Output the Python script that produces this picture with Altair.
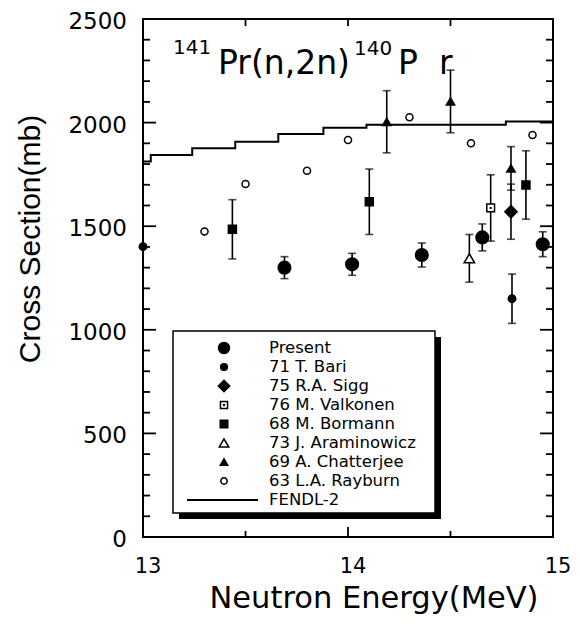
import altair as alt
import pandas as pd

# ---------------- data ----------------
series_names = ["Present", "71 T. Bari", "75 R.A. Sigg", "76 M. Valkonen",
                "68 M. Bormann", "73 J. Araminowicz", "69 A. Chatterjee",
                "63 L.A. Rayburn"]

present_e = [13.69, 14.02, 14.36, 14.655, 14.95]
present_cs = [1300, 1316, 1361, 1446, 1413]
present_err = [53, 53, 58, 65, 60]

bari_e = [13.0, 14.80]
bari_cs = [1401, 1150]
bari_err = [0, 119]

sigg_e = [14.795]
sigg_cs = [1570]
sigg_err = [133]

valkonen_e = [14.696]
valkonen_cs = [1588]
valkonen_err = [160]

bormann_e = [13.436, 14.104, 14.868]
bormann_cs = [1485, 1618, 1699]
bormann_err = [143, 158, 165]

aram_e = [14.592]
aram_cs = [1345]
aram_err = [115]

chatt_e = [14.189, 14.50, 14.795]
chatt_cs = [2004, 2102, 1779]
chatt_err = [150, 151, 105]

rayburn_e = [13.3, 13.5, 13.8, 14.0, 14.3, 14.6, 14.9]
rayburn_cs = [1474, 1704, 1768, 1916, 2026, 1900, 1940]
rayburn_err = [0, 0, 0, 0, 0, 0, 0]

fendl_e = [13.0, 13.038, 13.24, 13.45, 13.66, 13.88, 14.09, 14.77, 15.0]
fendl_cs = [1812, 1844, 1876, 1908, 1945, 1975, 1990, 2005, 2005]

y_major = [0, 500, 1000, 1500, 2000, 2500]
y_labels = ["0", "500", "1000", "1500", "2000", "2500"]
y_minor = [v for v in range(0, 2501, 100) if v % 500 != 0]
x_major = [13, 14, 15]
x_labels = ["13", "14", "15"]
x_minor = [13.5, 14.5]
x_title = "Neutron Energy(MeV)"
y_title = "Cross Section(mb)"

# ---------------- styling ----------------
shape_range = ["circle", "circle", "diamond", "square", "square",
               "triangle-up", "triangle-up", "circle"]
size_range = [160, 55, 150, 60, 64, 110, 70, 50]
fill_range = ["black", "black", "black", "white", "black", "white", "black", "white"]
style = {n: (s, z, f) for n, s, z, f in zip(series_names, shape_range, size_range, fill_range)}

W, H = 410, 518
XMIN, XMAX, YMIN, YMAX = 13.0, 15.0, 0, 2500
PX0, PY0 = 143, 19  # plot origin on the page


def dx(px):
    return XMIN + (px - PX0) * (XMAX - XMIN) / W


def dy(py):
    return YMAX - (py - PY0) * (YMAX - YMIN) / H


groups = [
    (series_names[0], present_e, present_cs, present_err),
    (series_names[1], bari_e, bari_cs, bari_err),
    (series_names[2], sigg_e, sigg_cs, sigg_err),
    (series_names[3], valkonen_e, valkonen_cs, valkonen_err),
    (series_names[4], bormann_e, bormann_cs, bormann_err),
    (series_names[5], aram_e, aram_cs, aram_err),
    (series_names[6], chatt_e, chatt_cs, chatt_err),
    (series_names[7], rayburn_e, rayburn_cs, rayburn_err),
]
rows = []
for name, es, cs, errs in groups:
    for e, c, er in zip(es, cs, errs):
        sh, sz, fl = style[name]
        rows.append({"series": name, "e": e, "cs": c, "lo": c - er, "hi": c + er, "err": er,
                     "shape": sh, "size": sz, "fill": fl})
pts = pd.DataFrame(rows)
errs_df = pts[pts["err"] > 0]
caps = pd.concat([
    errs_df[["e", "lo"]].rename(columns={"lo": "v"}),
    errs_df[["e", "hi"]].rename(columns={"hi": "v"}),
])

xs = alt.Scale(domain=[XMIN, XMAX], nice=False, zero=False)
ys = alt.Scale(domain=[YMIN, YMAX], nice=False, zero=False)


def X(field):
    return alt.X(field, scale=xs, axis=None)


def Y(field):
    return alt.Y(field, scale=ys, axis=None)


shape_enc = alt.Shape("shape:N", scale=None)
size_enc = alt.Size("size:Q", scale=None)
fill_enc = alt.Fill("fill:N", scale=None)

# FENDL-2 histogram
fendl = alt.Chart(pd.DataFrame({"e": fendl_e, "cs": fendl_cs})).mark_line(
    interpolate="step-after", color="black", strokeWidth=2
).encode(x=X("e:Q"), y=Y("cs:Q"))

# tick labels and axis titles
xlab = alt.Chart(pd.DataFrame({"v": x_major, "t": x_labels})).mark_text(
    font="DejaVu Sans", fontSize=21, color="black", baseline="middle", align="center", dx=5
).encode(x=X("v:Q"), y=alt.value(H + 30), text="t:N")
ylab = alt.Chart(pd.DataFrame({"v": y_major, "t": y_labels})).mark_text(
    font="DejaVu Sans", fontSize=23, color="black", baseline="middle", align="right", dy=3
).encode(y=Y("v:Q"), x=alt.value(-16), text="t:N")
xtitle = alt.Chart(pd.DataFrame({"t": [x_title]})).mark_text(
    font="DejaVu Sans", fontSize=30.5, color="black", baseline="alphabetic", align="center"
).encode(x=alt.value(231), y=alt.value(H + 71), text="t:N")
ytitle = alt.Chart(pd.DataFrame({"t": [y_title]})).mark_text(
    font="Liberation Sans", fontSize=30, color="black", baseline="alphabetic", align="center",
    angle=270
).encode(x=alt.value(-103), y=alt.value(220), text="t:N")

bars = alt.Chart(errs_df).mark_rule(color="black", strokeWidth=1.6).encode(
    x=X("e:Q"), y=Y("lo:Q"), y2="hi:Q"
)
cap_marks = alt.Chart(caps).mark_tick(color="black", orient="horizontal", size=8, thickness=1.6).encode(
    x=X("e:Q"), y=Y("v:Q")
)
points = alt.Chart(pts).mark_point(filled=True, stroke="black", strokeWidth=1.5, opacity=1).encode(
    x=X("e:Q"), y=Y("cs:Q"),
    shape=shape_enc, size=size_enc, fill=fill_enc,
)
valk_dot = alt.Chart(pts[pts["series"] == series_names[3]]).mark_point(
    filled=True, color="black", shape="square", size=4, opacity=1
).encode(x=X("e:Q"), y=Y("cs:Q"))


# inward ticks on all four sides
def yticks(vals, x1, x2):
    return alt.Chart(pd.DataFrame({"v": vals})).mark_rule(color="black", strokeWidth=1.8).encode(
        y=Y("v:Q"), x=alt.value(x1), x2=alt.value(x2))


def xticks(vals, y1, y2):
    return alt.Chart(pd.DataFrame({"v": vals})).mark_rule(color="black", strokeWidth=1.8).encode(
        x=X("v:Q"), y=alt.value(y1), y2=alt.value(y2))


tick_layers = [
    yticks(y_major, 0, 13), yticks(y_minor, 0, 7),
    yticks(y_major, W, W - 13), yticks(y_minor, W, W - 7),
    xticks(x_major, H, H - 10), xticks(x_minor, H, H - 6),
    xticks(x_major, 0, 7), xticks(x_minor, 0, 7),
]

# reaction label
title_parts = pd.DataFrame([
    {"t": "141", "x": dx(173), "y": dy(54), "s": 20},
    {"t": "Pr(n,2n)", "x": dx(218), "y": dy(74), "s": 33},
    {"t": "140", "x": dx(354), "y": dy(55), "s": 20},
    {"t": "P", "x": dx(398), "y": dy(74), "s": 33},
    {"t": "r", "x": dx(439), "y": dy(74), "s": 33},
])
title_small = alt.Chart(title_parts[title_parts["s"] == 20]).mark_text(
    align="left", baseline="alphabetic", font="DejaVu Sans", fontSize=20, color="black"
).encode(x=X("x:Q"), y=Y("y:Q"), text="t:N")
title_big = alt.Chart(title_parts[title_parts["s"] == 33]).mark_text(
    align="left", baseline="alphabetic", font="DejaVu Sans", fontSize=33, color="black"
).encode(x=X("x:Q"), y=Y("y:Q"), text="t:N")

# legend box (drawn in data space)
box = pd.DataFrame([{"x1": dx(173), "x2": dx(435), "y1": dy(331), "y2": dy(513)}])
shadow = pd.DataFrame([{"x1": dx(179), "x2": dx(441), "y1": dy(337), "y2": dy(519)}])
shadow_rect = alt.Chart(shadow).mark_rect(color="black").encode(
    x=X("x1:Q"), x2="x2:Q", y=Y("y1:Q"), y2="y2:Q")
box_rect = alt.Chart(box).mark_rect(fill="white", stroke="black", strokeWidth=1.5).encode(
    x=X("x1:Q"), x2="x2:Q", y=Y("y1:Q"), y2="y2:Q")

leg_size = [120, 45, 130, 50, 56, 90, 55, 40]
leg = pd.DataFrame({
    "series": series_names,
    "shape": shape_range,
    "size": leg_size,
    "fill": fill_range,
    "sx": [dx(224)] * len(series_names),
    "tx": [dx(269)] * len(series_names),
    "y": [dy(348 + 19 * i) for i in range(len(series_names))],
})
leg_sym = alt.Chart(leg).mark_point(filled=True, stroke="black", strokeWidth=1.5, opacity=1).encode(
    x=X("sx:Q"), y=Y("y:Q"),
    shape=shape_enc, size=size_enc, fill=fill_enc,
)
leg_dot = alt.Chart(leg[leg["series"] == series_names[3]]).mark_point(
    filled=True, color="black", shape="square", size=4, opacity=1
).encode(x=X("sx:Q"), y=Y("y:Q"))
leg_txt = alt.Chart(leg).mark_text(
    align="left", baseline="middle", font="DejaVu Sans", fontSize=16.5, color="black"
).encode(x=X("tx:Q"), y=Y("y:Q"), text="series:N")

fendl_leg = pd.DataFrame([{"label": "FENDL-2", "x1": dx(187), "x2": dx(258), "tx": dx(269),
                           "y": dy(348 + 19 * 8)}])
fendl_leg_line = alt.Chart(fendl_leg).mark_rule(color="black", strokeWidth=1.8).encode(
    x=X("x1:Q"), x2="x2:Q", y=Y("y:Q"))
fendl_leg_txt = alt.Chart(fendl_leg).mark_text(
    align="left", baseline="middle", font="DejaVu Sans", fontSize=16.5, color="black"
).encode(x=X("tx:Q"), y=Y("y:Q"), text="label:N")

chart = alt.layer(
    fendl, xlab, ylab, xtitle, ytitle, *tick_layers, bars, cap_marks, points, valk_dot,
    title_small, title_big,
    shadow_rect, box_rect, leg_sym, leg_dot, leg_txt, fendl_leg_line, fendl_leg_txt,
).properties(
    width=W, height=H,
    autosize=alt.AutoSizeParams(type="none"),
    padding={"left": 135, "top": 11, "right": 19, "bottom": 92},
    background="white",
).configure_view(
    stroke="black", strokeWidth=2
)

chart.save("out.html", embed_options={"renderer": "svg", "actions": False})
